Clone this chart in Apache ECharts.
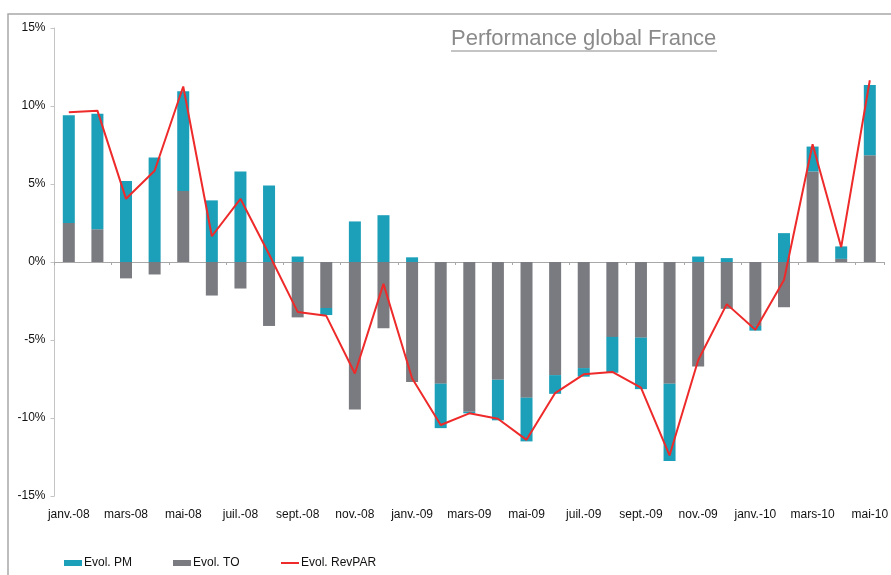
<!DOCTYPE html>
<html>
<head>
<meta charset="utf-8">
<title>Performance global France</title>
<script src="https://cdn.jsdelivr.net/npm/echarts@6/dist/echarts.min.js"></script>
<style>
    html, body { margin: 0; padding: 0; background: #fff; }
    #chart { width: 891px; height: 575px; }
</style>
</head>
<body>
<div id="chart"></div>
<script>
var months = ['janv.-08', 'févr.-08', 'mars-08', 'avr.-08', 'mai-08', 'juin-08', 'juil.-08', 'août-08',
    'sept.-08', 'oct.-08', 'nov.-08', 'déc.-08', 'janv.-09', 'févr.-09', 'mars-09', 'avr.-09', 'mai-09',
    'juin-09', 'juil.-09', 'août-09', 'sept.-09', 'oct.-09', 'nov.-09', 'déc.-09', 'janv.-10', 'févr.-10',
    'mars-10', 'avr.-10', 'mai-10'];

// evolution du taux d'occupation (%)
var evolTO = [2.5, 2.1, -1.05, -0.8, 4.55, -2.15, -1.7, -4.1, -3.55, -2.95, -9.45, -4.25, -7.7, -7.8,
    -9.6, -7.55, -8.7, -7.25, -6.8, -4.8, -4.85, -7.8, -6.7, -3.0, -4.1, -2.9, 5.8, 0.2, 6.85];

// evolution du prix moyen (%), empile sur le TO
var evolPM = [6.9, 7.4, 5.2, 6.7, 6.4, 3.95, 5.8, 4.9, 0.35, -0.45, 2.6, 3.0, 0.3, -2.85,
    -0.1, -2.6, -2.8, -1.2, -0.55, -2.3, -3.3, -4.95, 0.35, 0.25, -0.3, 1.85, 1.6, 0.8, 4.5];

// evolution du RevPAR (%)
var evolRevPAR = [9.6, 9.7, 4.05, 5.85, 11.25, 1.65, 4.05, 0.5, -3.2, -3.45, -7.15, -1.4, -7.45, -10.45,
    -9.7, -10.05, -11.4, -8.4, -7.2, -7.05, -8.05, -12.4, -6.3, -2.7, -4.35, -1.15, 7.55, 0.95, 11.65];

var yTicks = [-15, -10, -5, 0, 5, 10, 15];

const myChart = echarts.init(document.getElementById('chart'));

var font = 'Liberation Sans, Arial, sans-serif';

const option = {
    animation: false,
    textStyle: { fontFamily: font },
    graphic: [
        {   // cadre
            type: 'rect',
            shape: { x: 8, y: 14, width: 1000, height: 1000 },
            style: { fill: 'none', stroke: '#a8a8a8', lineWidth: 1.5 },
            silent: true
        },
        {
            type: 'text',
            left: 451,
            top: 28,
            style: { text: 'Performance global France', fill: '#8a8a8a', font: '22px ' + font }
        },
        {   // soulignement du titre
            type: 'line',
            shape: { x1: 451, y1: 51, x2: 717, y2: 51 },
            style: { stroke: '#8a8a8a', lineWidth: 1.2 }
        }
    ],
    legend: [
        {
            data: ['Evol. PM'], left: 59, top: 552,
            itemWidth: 18, itemHeight: 6, itemGap: 0, icon: 'rect',
            textStyle: { fontSize: 12, color: '#111', padding: [0, 0, 0, -3] }
        },
        {
            data: ['Evol. TO'], left: 168, top: 552,
            itemWidth: 18, itemHeight: 6, itemGap: 0, icon: 'rect',
            textStyle: { fontSize: 12, color: '#111', padding: [0, 0, 0, -3] }
        },
        {
            data: ['Evol. RevPAR'], left: 276, top: 552,
            itemWidth: 18, itemHeight: 2, itemGap: 0, icon: 'rect',
            textStyle: { fontSize: 12, color: '#111', padding: [0, 0, 0, -3] }
        }
    ],
    grid: { left: 54.5, top: 28, width: 838, height: 468, containLabel: false },
    xAxis: [
        {
            type: 'category',
            data: months,
            position: 'bottom',
            axisLine: { onZero: true, lineStyle: { color: '#a8a8a8', width: 1 } },
            axisTick: { show: true, interval: 1, length: 3, lineStyle: { color: '#a8a8a8' } },
            axisLabel: { show: false, interval: 1 }
        },
        {
            type: 'category',
            data: months,
            position: 'bottom',
            axisLine: { show: false, onZero: false },
            axisTick: { show: false },
            axisLabel: { interval: 1, margin: 13, fontSize: 12, color: '#111', fontFamily: font }
        }
    ],
    yAxis: {
        type: 'value',
        min: yTicks[0],
        max: yTicks[yTicks.length - 1],
        interval: 5,
        axisLine: { show: true, lineStyle: { color: '#c4c4c4' } },
        axisTick: { show: true, length: 4, lineStyle: { color: '#c4c4c4' } },
        splitLine: { show: false },
        axisLabel: { formatter: '{value}%', margin: 9, fontSize: 12, color: '#111', fontFamily: font }
    },
    series: [
        {
            name: 'Evol. TO',
            type: 'bar',
            stack: 'revpar',
            barWidth: 12,
            itemStyle: { color: '#7a7b80' },
            data: evolTO
        },
        {
            name: 'Evol. PM',
            type: 'bar',
            stack: 'revpar',
            barWidth: 12,
            itemStyle: { color: '#1c9fb8' },
            data: evolPM
        },
        {
            name: 'Evol. RevPAR',
            type: 'line',
            symbol: 'none',
            smooth: false,
            lineStyle: { color: '#ee2a2a', width: 2 },
            itemStyle: { color: '#ee2a2a' },
            data: evolRevPAR,
            z: 5
        }
    ]
};
myChart.setOption(option);
</script>
</body>
</html>
